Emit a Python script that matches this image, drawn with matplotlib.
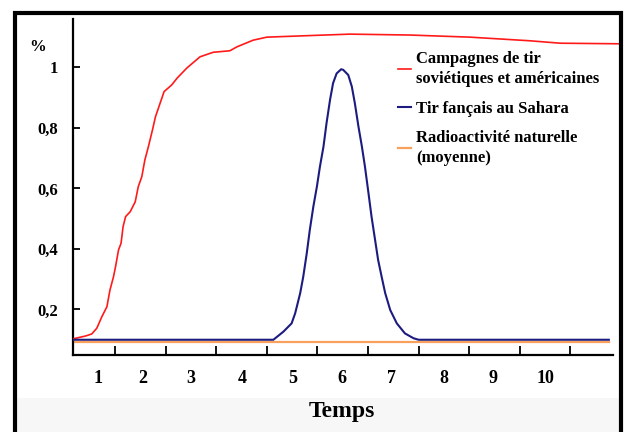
import matplotlib
matplotlib.use('Agg')
import matplotlib.pyplot as plt
from matplotlib.patches import Rectangle

plt.rcParams['font.family'] = 'Liberation Serif'
plt.rcParams['font.weight'] = 'bold'

# data
x_red = [0.17, 0.41, 0.54, 0.64, 0.74, 0.84, 0.90, 0.97, 1.01, 1.07, 1.12, 1.16, 1.21, 1.30,
         1.40, 1.46, 1.53, 1.59, 1.66, 1.74, 1.80, 1.89, 1.97, 2.12, 2.23, 2.42, 2.68, 2.94,
         3.27, 3.41, 3.73, 4.00, 4.65, 5.64, 6.83, 8.02, 9.20, 9.80, 11.02]
y_red = [0.103, 0.112, 0.119, 0.138, 0.176, 0.209, 0.264, 0.308, 0.341, 0.397, 0.419, 0.474, 0.507, 0.523,
         0.556, 0.606, 0.639, 0.694, 0.738, 0.793, 0.837, 0.881, 0.92, 0.942, 0.965, 0.998, 1.035, 1.05,
         1.055, 1.068, 1.09, 1.10, 1.104, 1.11, 1.107, 1.10, 1.088, 1.08, 1.078]

x_blue = [0.17, 4.13, 4.33, 4.49, 4.56, 4.66, 4.72, 4.79, 4.85, 4.92, 4.99, 5.05, 5.12, 5.18,
          5.25, 5.31, 5.38, 5.47, 5.51, 5.61, 5.68, 5.74, 5.81, 5.88, 5.94, 6.01, 6.07, 6.14,
          6.20, 6.27, 6.34, 6.44, 6.57, 6.73, 6.90, 7.00, 10.76]
y_blue = [0.10, 0.10, 0.127, 0.154, 0.187, 0.254, 0.308, 0.386, 0.463, 0.54, 0.606, 0.672, 0.738, 0.815,
          0.893, 0.948, 0.98, 0.994, 0.992, 0.975, 0.937, 0.882, 0.806, 0.738, 0.672, 0.584, 0.507, 0.43,
          0.364, 0.308, 0.254, 0.198, 0.154, 0.121, 0.105, 0.10, 0.10]

x_orange = [0.17, 10.76]
y_orange = [0.094, 0.094]

yticks = [0.2, 0.4, 0.6, 0.8, 1.0]
ytick_labels = ['0,2', '0,4', '0,6', '0,8', '1']
xticks = [1, 2, 3, 4, 5, 6, 7, 8, 9, 10]
xlabel_pos = [0.66, 1.55, 2.50, 3.51, 4.52, 5.48, 6.47, 7.50, 8.47, 9.50]
xlabel_txt = ['1', '2', '3', '4', '5', '6', '7', '8', '9', '10']

labels = ['Campagnes de tir\nsoviétiques et américaines',
          'Tir fançais au Sahara',
          'Radioactivité naturelle\n(moyenne)']

W, H = 627, 432
fig = plt.figure(figsize=(W / 100, H / 100), dpi=100)
fig.patch.set_facecolor('white')

# light grey band at the bottom and the black frame
fig.patches.append(Rectangle((15 / W, 0), 606 / W, (H - 398) / H, transform=fig.transFigure,
                             facecolor='#f7f7f7', edgecolor='none', zorder=0))
fig.patches.append(Rectangle((15 / W, -0.05), 606 / W, 1.05 - 13 / H, transform=fig.transFigure,
                             facecolor='none', edgecolor='black', linewidth=3, zorder=5))

ax = fig.add_axes([73 / W, (H - 355) / H, (622 - 73) / W, (355 - 19) / H])
ax.set_facecolor('none')

ax.plot(x_orange, y_orange, color='#f7a15c', lw=1.6, label=labels[2], zorder=2)
ax.plot(x_red, y_red, color='#ff1a1a', lw=1.2, label=labels[0], zorder=3)
ax.plot(x_blue, y_blue, color='#1c1c80', lw=1.5, label=labels[1], zorder=3)

ax.set_xlim(0.17, 11.02)
ax.set_ylim(0.0496, 1.16)

for s in ['top', 'right']:
    ax.spines[s].set_visible(False)
ax.spines['left'].set_linewidth(1.6)
ax.spines['bottom'].set_linewidth(1.6)
ax.spines['bottom'].set_bounds(0.17, 10.84)

ax.set_yticks(yticks, ytick_labels)
ax.tick_params(axis='y', direction='in', length=5, width=1.3, pad=11, labelsize=12)
ax.set_xticks(xticks, [''] * len(xticks))
ax.tick_params(axis='x', which='major', direction='in', length=6.5, width=1.3)
ax.set_xticks(xlabel_pos, xlabel_txt, minor=True)
ax.tick_params(axis='x', which='minor', length=0, pad=11, labelsize=13)

fig.text(38 / W, 1 - 47 / H, '%', ha='center', va='center', fontsize=12)
fig.text(342 / W, 1 - 411 / H, 'Temps', ha='center', va='center', fontsize=17)

handles, labs = ax.get_legend_handles_labels()
order = [1, 2, 0]
leg = ax.legend([handles[i] for i in order], [labs[i] for i in order],
                loc='upper left', bbox_to_anchor=(398 / W, 1 - 51 / H), bbox_transform=fig.transFigure,
                frameon=False, fontsize=12, handlelength=0.8, handletextpad=0.3,
                labelspacing=0.8, borderpad=0, borderaxespad=0)
for t in leg.get_texts():
    t.set_linespacing(1.35)

fig.savefig('out.png', dpi=100)
